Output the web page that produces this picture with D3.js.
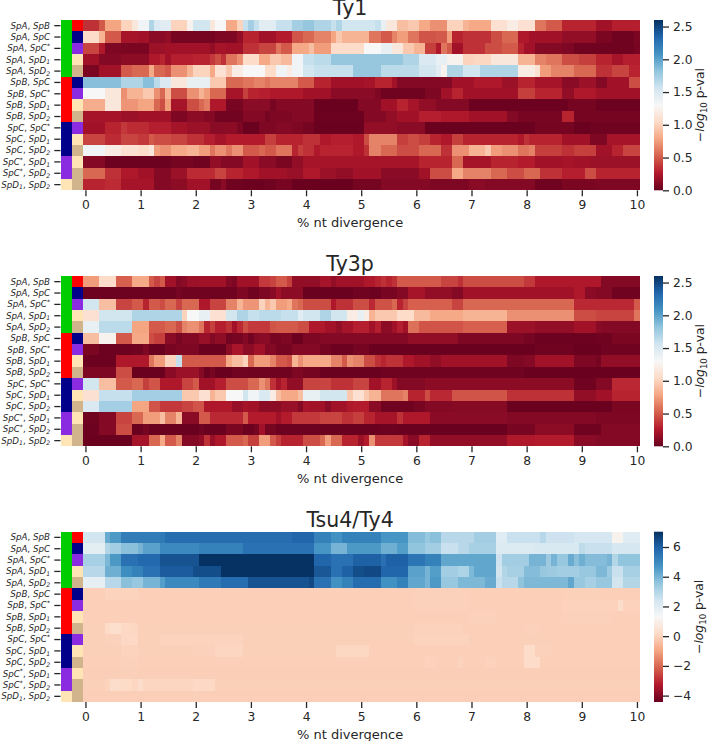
<!DOCTYPE html>
<html><head><meta charset="utf-8">
<script src="https://cdn.jsdelivr.net/npm/d3@7"></script>
<style>html,body{margin:0;padding:0;background:#fff}svg{display:block}text{font-family:"DejaVu Sans";fill:#262626}</style>
</head><body><div id="c"></div>
<script>
// Sliding-window position categories: % nt divergence, 0 to 10 in steps of 0.1
const divergence = d3.range(0, 101).map(i => i / 10);
const xTicks = [0,1,2,3,4,5,6,7,8,9,10];
const speciesA = ["SpA","SpA","SpA","SpA","SpA","SpB","SpB","SpB","SpB","SpC","SpC","SpC","SpC*","SpC*","SpD1"];
const speciesB = ["SpB","SpC","SpC*","SpD1","SpD2","SpC","SpC*","SpD1","SpD2","SpC*","SpD1","SpD2","SpD1","SpD2","SpD2"];
const speciesNames = ["SpA","SpB","SpC","SpC*","SpD1","SpD2"];
const speciesColors = ["#00cd00","#ff0000","#00008b","#8a2be2","#ffe4b5","#d2b48c"];
const rdbuStops = ["#67001f","#b2182b","#d6604d","#f4a582","#fddbc7","#f7f7f7","#d1e5f0","#92c5de","#4393c3","#2166ac","#053061"];

// Each row: plateaus of [divergence where the plateau starts, -log10 p-val]
const ty1Rows = [
[[0,.35],[.3,.5],[.4,.78],[.7,1],[.9,1.15],[1,1.35],[1.2,1.7],[1.3,1.5],[1.4,1.45],[1.6,1],[1.9,1.25],[2,1.55],[2.3,1.15],[2.4,1.3],[2.6,.8],[2.8,1],[2.9,1.6],[3,1.75],[3.1,1.6],[3.2,1.45],[3.5,1.6],[3.8,1.75],[4,1.8],[4.2,1.7],[4.5,1.6],[4.6,1.7],[4.7,1.55],[5.3,1.6],[5.4,1.4],[5.5,1.15],[5.7,.9],[5.9,.95],[6.1,.8],[6.3,.7],[6.6,1],[6.9,.85],[7,.8],[7.4,1.1],[7.7,1.2],[7.9,1.1],[8.2,.6],[8.4,.5],[8.7,.3],[9.3,.2],[9.6,.28]],
[[0,1.05],[.3,.85],[.4,.5],[.7,.22],[1,.2],[1.2,.12],[1.5,.15],[1.6,.05],[2.4,.08],[2.8,.15],[2.9,.3],[3.2,.2],[3.5,.27],[3.8,.48],[4,.55],[4.2,.65],[4.5,.78],[4.6,.95],[4.7,.85],[5.2,.6],[5.4,.5],[5.6,.65],[5.7,.75],[5.9,.6],[6.1,.48],[6.4,.5],[6.6,.75],[6.7,.3],[6.9,.35],[7.4,.45],[7.6,.55],[7.9,.25],[8.1,.2],[8.7,.15],[9.3,.07],[9.6,.03],[10,.07]],
[[0,.42],[.3,.25],[.4,.08],[.7,.07],[1.2,.18],[1.5,.2],[2.3,.15],[2.4,.22],[2.6,.2],[2.9,.35],[3.2,.42],[3.5,.6],[3.6,.5],[3.8,.8],[4.1,.9],[4.2,.75],[4.5,1.05],[5.1,1.3],[5.4,1.4],[5.6,1.15],[5.8,.95],[6,.85],[6.2,.4],[6.4,.25],[6.5,.6],[6.6,.5],[6.7,.2],[6.9,.35],[7.3,.45],[7.6,.5],[7.9,.3],[8,.2],[8.2,.1],[8.7,.08],[8.9,.03],[10,.06]],
[[0,.2],[.3,.1],[.7,.13],[1.2,.25],[1.4,.3],[1.5,.2],[1.6,.28],[2,.3],[2.3,.38],[2.4,.45],[2.5,.35],[2.6,.6],[2.8,.7],[2.9,1.05],[3.2,.8],[3.4,.95],[3.6,.88],[3.8,1.35],[4,1.6],[4.2,1.65],[4.5,1.8],[5.8,1.7],[6.1,1.5],[6.4,1.4],[6.6,1.25],[6.9,1],[7.1,1.02],[7.4,1.15],[7.9,.85],[8.2,.65],[8.4,.6],[8.7,.45],[9,.4],[9.3,.3],[9.6,.22],[9.8,.28]],
[[0,.07],[.3,.2],[.7,.5],[.9,.55],[1.2,.8],[1.3,.55],[1.5,.5],[1.6,.7],[1.9,.85],[2,1],[2.3,.8],[2.4,1.1],[2.6,.95],[2.7,1.2],[2.9,1.3],[3.3,1.05],[3.5,1.35],[3.7,1.2],[3.8,1.35],[4,1.55],[4.2,1.6],[4.9,1.8],[5.4,1.65],[6.1,1.55],[6.4,1.45],[6.5,1.25],[6.6,1.7],[6.9,1.55],[7.2,1.7],[7.9,1.2],[8.2,1.1],[8.3,.75],[8.5,.65],[8.9,.55],[9.3,.35],[9.6,.42],[9.9,.3]],
[[0,1.85],[.7,1.7],[1.1,1.85],[1.3,1.65],[1.4,1.5],[1.6,1.15],[1.9,1.4],[2.3,.95],[2.6,.55],[2.9,.6],[3.1,.65],[3.3,.6],[3.4,.65],[3.9,.5],[4.2,.3],[4.5,.2],[5.1,.22],[5.3,.3],[5.6,.2],[5.7,.1],[6.7,.2],[7.1,.25],[7.6,.18],[7.9,.3],[8.2,.22],[8.7,.12],[9,.18],[9.3,.1],[9.5,.2],[9.9,.45]],
[[0,1.3],[.4,1.15],[.7,.7],[.8,.85],[1.1,.95],[1.3,.7],[1.4,.55],[1.5,.85],[1.6,.45],[1.9,.7],[2.1,.85],[2.2,.75],[2.3,.55],[2.6,.22],[2.9,.4],[3,.3],[3.2,.28],[3.4,.25],[4,.2],[4.5,.12],[5.3,.08],[5.4,.03],[6.2,.08],[6.5,.2],[6.7,.3],[6.9,.2],[7.9,.4],[8.2,.3],[8.7,.15],[8.9,.25],[9.3,.2]],
[[0,.82],[.4,1.15],[.7,.72],[1,.78],[1.3,.55],[1.4,.45],[1.5,.75],[1.6,.22],[1.9,.45],[2.1,.55],[2.2,.62],[2.3,.25],[2.6,.06],[2.9,.12],[3.4,.06],[3.5,.1],[4.2,.01],[5,.1],[5.4,.2],[5.7,.3],[5.9,.22],[6.1,.15],[6.4,.1],[7,.02],[8.8,.05],[9.3,.02]],
[[0,.22],[.7,.18],[1,.2],[1.6,.08],[1.9,.13],[2.2,.1],[2.4,.04],[2.9,.1],[3.3,.05],[3.4,.08],[3.8,.1],[4.2,.02],[5.1,.1],[5.5,.15],[5.7,.2],[6.1,.28],[6.5,.25],[7,.2],[7.7,.1],[7.9,.06],[8.7,.3],[8.9,.05]],
[[0,.2],[.4,.3],[.7,.38],[.8,.33],[1.2,.28],[1.6,.22],[1.9,.18],[2.3,.12],[2.6,.13],[2.8,.08],[2.9,.01],[3.2,.08],[3.5,.1],[3.8,.08],[4,.05],[4.2,.01],[5.1,.15],[5.7,.12],[6.2,.01],[8.2,.05],[8.9,.01],[9.2,.03]],
[[0,.42],[.4,.33],[.7,.42],[1,.38],[1.2,.5],[1.3,.45],[1.6,.42],[1.9,.35],[2.2,.28],[2.4,.22],[2.6,.27],[3.3,.4],[3.5,.3],[4,.35],[4.3,.25],[4.5,.28],[4.9,.25],[5.1,.45],[5.2,.65],[5.7,.4],[5.9,.45],[6.1,.4],[6.3,.3],[6.5,.25],[6.7,.4],[6.9,.3],[7.9,.25],[8,.35],[8.1,.3],[8.7,.2],[9.2,.08],[9.5,.22]],
[[0,1.35],[.4,1.2],[.7,1.1],[1,1.05],[1.2,1.15],[1.3,.75],[1.4,.7],[1.6,.8],[1.9,.85],[2.1,.75],[2.3,.6],[2.4,.7],[2.6,.6],[2.7,.7],[2.9,.5],[3.2,.55],[3.3,.5],[3.5,.6],[3.8,.3],[3.9,.4],[4,.35],[4.2,.25],[4.3,.3],[4.9,.25],[5.1,.35],[5.2,.65],[5.4,.55],[5.7,.45],[6.1,.55],[6.5,.35],[6.7,.7],[7,.85],[7.3,.95],[7.4,.75],[7.6,.7],[7.9,.6],[8.1,.65],[8.2,.4],[8.7,.35],[8.9,.4],[9.3,.2],[9.6,.3],[9.8,.42]],
[[0,.1],[.4,.02],[1.6,.05],[2,.03],[2.3,.15],[2.5,.1],[2.9,.2],[3.2,.12],[3.5,.07],[3.8,.15],[4,.22],[6.1,.3],[6.7,.55],[6.9,.22],[7.4,.3],[7.9,.27],[8.2,.2],[8.7,.22],[8.9,.2],[9.2,.18]],
[[0,.55],[.4,.35],[.7,.25],[1,.2],[1.3,.1],[1.6,.18],[1.9,.33],[2.4,.42],[2.6,.3],[2.9,.25],[3.2,.2],[3.7,.17],[4,.25],[4.3,.18],[4.6,.15],[4.9,.2],[5.4,.12],[6.1,.2],[6.3,.45],[6.7,.8],[6.9,.65],[7.4,.55],[7.7,.45],[8,.55],[8.3,.35],[8.7,.28],[9.1,.45],[9.3,.3]],
[[0,.3],[.4,.33],[.7,.22],[1.3,.1],[1.6,.13],[1.9,.2],[2.3,.05],[2.5,.12],[2.6,.03],[2.9,.02],[3.3,.03],[3.5,.06],[3.8,.01],[4.9,.05],[5.4,.1],[6.3,.08],[7,.12],[7.3,.1],[8.2,.03],[8.7,.07],[9.3,.08]]
];

const ty3pRows = [
[[0,.75],[.3,1.05],[.6,.52],[.9,.8],[1.2,.5],[1.3,.42],[1.4,.5],[1.5,.2],[1.7,.1],[1.8,.13],[1.9,.18],[2.1,.2],[2.6,.1],[2.7,.08],[2.8,.2],[3.2,.38],[3.4,.42],[3.5,.5],[3.7,.4],[3.8,.15],[4.3,.22],[4.5,.15],[4.6,.2],[5.1,.25],[5.3,.3],[5.4,.35],[5.5,.3],[5.6,.35],[5.7,.5],[6.5,.42],[6.8,.35],[6.9,.45],[8,.38],[8.2,.25],[9.4,.1]],
[[0,.02],[1.7,.05],[1.8,.03],[2.8,.08],[3,.03],[3.2,.08],[3.4,.12],[3.5,.2],[3.6,.13],[4,.01],[4.9,.03],[5.2,.02],[5.4,.06],[5.7,.1],[5.9,.22],[6.2,.15],[6.7,.1],[6.9,.2],[8.9,.25],[9.1,.12],[9.3,.1],[9.6,.03]],
[[0,1.55],[.3,.9],[.6,.42],[.9,.5],[1.1,.3],[1.2,.5],[1.4,.45],[1.5,.55],[1.7,.42],[1.8,.55],[2.1,.25],[2.3,.42],[2.6,.65],[2.8,.85],[2.9,.72],[3.2,1],[3.3,.85],[3.4,.95],[3.5,.75],[3.7,.8],[3.8,.6],[3.9,.55],[4,.45],[4.5,.25],[4.6,.35],[4.9,.45],[5.2,.32],[5.3,.47],[5.6,.55],[5.7,.3],[5.8,.42],[5.9,.52],[6.7,.42],[6.9,.55],[8.9,.32],[10,.5]],
[[0,1.1],[.3,1.55],[.9,1.7],[1.8,1],[1.9,1.3],[2.1,1.4],[2.3,1.1],[2.6,1.55],[2.8,1.7],[3,1.6],[3.2,1.65],[3.6,1.6],[3.9,1.45],[4,1.55],[4.3,1.7],[4.5,1.55],[4.8,1.2],[5,1.4],[5.1,1.2],[5.2,.85],[5.3,.95],[5.7,1.05],[6,.88],[6.3,.8],[6.9,.85],[7.7,.7],[8.9,.45],[9.3,.42],[10,.6]],
[[0,1.4],[.3,1.65],[.9,.78],[1.2,.5],[1.5,.55],[1.7,.45],[1.8,.65],[1.9,.7],[2.1,.6],[2.2,.3],[2.3,.4],[2.4,.28],[2.6,.35],[2.7,.2],[2.8,.32],[2.9,.45],[3,.38],[3.4,.48],[3.5,.5],[3.9,.45],[4.1,.25],[4.4,.2],[4.6,.15],[4.7,.22],[4.9,.28],[5.2,.2],[5.3,.28],[5.4,.13],[5.6,.2],[5.7,.28],[5.8,.2],[5.9,.58],[6.1,.48],[6.9,.52],[7.7,.18],[8.2,.15],[8.9,.2],[9.3,.12],[9.4,.1]],
[[0,.9],[.3,1.25],[.6,.5],[.9,.8],[1.2,.45],[1.3,.4],[1.5,.12],[1.7,.06],[1.8,.1],[2.1,.17],[2.3,.1],[2.4,.14],[2.6,.04],[2.7,.06],[2.9,.1],[3,.04],[3.1,.1],[3.2,.12],[3.4,.06],[3.6,.08],[3.8,.02],[4,.08],[4.3,.1],[5.9,.15],[6.8,.08],[8,.05],[8.2,.02],[9.3,.03],[9.6,.07]],
[[0,.07],[.3,.02],[.9,.03],[1.1,.08],[1.2,.01],[1.5,.06],[1.7,.08],[2.1,.01],[2.6,.13],[2.7,.23],[2.9,.13],[3.1,.2],[3.3,.1],[3.5,.05],[3.8,.1],[4.3,.05],[4.5,.02],[4.9,.05],[5.2,.01],[8.2,.03],[8.9,.01],[9.4,.03]],
[[0,.02],[.6,.25],[1.2,.6],[1.3,.75],[1.5,1],[1.7,1.6],[1.8,.5],[2.6,.8],[2.7,.9],[2.9,1],[3,.55],[3.1,.75],[3.4,.65],[3.5,.5],[3.7,.45],[3.8,.85],[3.9,.7],[4,.8],[4.5,.65],[4.7,.5],[4.8,.7],[4.9,.65],[5.1,.45],[5.3,.35],[5.4,.3],[5.5,.35],[5.8,.25],[6,.2],[6.3,.15],[6.5,.2],[7.7,.08],[8,.1],[8.2,.2],[8.9,.08],[9.3,.05],[9.4,.15]],
[[0,.08],[.6,.45],[.9,.01],[1.5,.12],[1.7,.18],[2.1,.1],[2.2,.02],[2.3,.06],[2.4,.01],[2.7,.04],[3,.03],[3.8,.08],[4,.05],[4.3,.01],[5.4,.03],[8,.01]],
[[0,1.55],[.3,.9],[.6,.5],[.9,.55],[1.1,.4],[1.2,.48],[1.4,.25],[1.8,.42],[2,.5],[2.1,.2],[2.4,.28],[2.6,.45],[3,.55],[3.2,.7],[3.3,.6],[3.4,.35],[3.5,.22],[3.6,.3],[3.7,.15],[4,.42],[4.5,.35],[4.9,.42],[5.2,.2],[5.4,.3],[5.6,.18],[5.7,.1],[6.2,.13],[8.9,.03],[9.3,.1],[9.6,.32]],
[[0,1.1],[.3,1.6],[.9,1.75],[1.8,.95],[2.1,1.1],[2.3,.85],[2.4,.95],[2.6,1.3],[2.9,1.55],[3,1.35],[3.2,1.5],[3.4,1.2],[3.5,.9],[3.6,.8],[3.9,.9],[4,1.4],[4.3,1.55],[4.8,.95],[4.9,1.1],[5.1,.95],[5.2,.85],[5.4,.6],[5.8,.65],[5.9,.3],[6.2,.45],[6.3,.32],[6.7,.48],[7.7,.35],[8.9,.15],[9.3,.2],[9.6,.3]],
[[0,1.5],[.3,1.75],[.9,.78],[1.2,.48],[1.4,.38],[1.8,.42],[2,.48],[2.2,.25],[2.7,.17],[2.9,.22],[3,.2],[3.2,.13],[3.6,.17],[3.9,.1],[4,.22],[4.1,.2],[4.4,.12],[4.5,.2],[4.8,.25],[4.9,.27],[5.2,.12],[5.4,.03],[6,.06],[6.2,.1],[6.7,.11],[7.7,.01],[9.6,.07]],
[[0,.03],[.3,.1],[.6,.42],[.9,.55],[1.1,.75],[1.4,.9],[1.5,.65],[1.7,.85],[1.8,.12],[2.1,.5],[2.3,.32],[2.9,.5],[3,.27],[3.5,.2],[3.6,.27],[3.8,.38],[4.3,.42],[4.7,.35],[4.9,.4],[5.1,.3],[5.3,.22],[5.7,.35],[5.8,.25],[6.3,.12],[7.7,.1],[9.3,.08]],
[[0,.02],[.3,.1],[.6,.45],[.9,.01],[1.1,.05],[1.2,.01],[2.1,.03],[2.2,.01],[2.6,.07],[2.9,.02],[3.1,.05],[3.2,.2],[3.3,.05],[3.5,.02],[4.3,.01],[5.4,.02],[5.7,.01],[7.7,.06],[8.2,.13],[8.9,.03],[9.4,.1]],
[[0,.01],[.9,.22],[1.2,.55],[1.4,.8],[1.5,.5],[1.7,.65],[1.8,.1],[2.1,.15],[2.2,.35],[2.3,.17],[2.4,.25],[2.6,.5],[2.9,.55],[3,.4],[3.2,.75],[3.4,.5],[3.5,.4],[3.6,.3],[4,.45],[4.3,.55],[4.4,.75],[4.5,.55],[4.7,.3],[5,.18],[5.1,.27],[5.2,.7],[5.3,.38],[5.8,.22],[5.9,.12],[6.1,.3],[6.3,.15],[7.7,.25],[8.2,.27],[8.9,.12],[9.3,.1]]
];

const tsu4Rows = [
[[0,2.4],[.4,4.2],[.5,4.6],[.7,5.3],[1.4,5.4],[1.5,5.7],[3.8,5.9],[4.2,5.2],[4.5,4.8],[4.7,5.2],[5.4,4.7],[5.9,3.8],[6.2,3.5],[6.3,3.7],[6.5,2.9],[7.1,3.3],[7.5,2],[7.7,2.6],[8.3,2.9],[8.4,2.5],[8.9,2.3],[9.6,1.1],[9.8,2]],
[[0,1.9],[.4,3],[.5,3.3],[.7,3.7],[1,4],[1.1,4.4],[1.4,5],[2.1,5.2],[2.9,5.6],[4.2,4.7],[4.5,4],[4.8,4.6],[5.4,4.1],[5.7,4.5],[5.9,3.6],[6.2,3.3],[6.5,2.6],[6.8,2.9],[7,3.2],[7.5,2.1],[8.2,2.2],[9,2.8],[9.1,2.6],[9.6,2.3]],
[[0,3.2],[.4,3.9],[.5,4.6],[.7,5.6],[1,5.8],[1.4,6.3],[2.1,7],[4.2,5.9],[4.5,5.6],[4.9,6],[5.4,5.6],[5.5,6],[5.9,5.5],[6.2,5.2],[6.5,4.3],[7.5,2.5],[7.6,3.3],[8.1,4],[8.4,3.4],[8.5,4],[8.6,3.5],[8.8,4.2],[8.9,3.7],[9,4.1],[9.1,3.8],[9.5,4],[9.6,3],[9.7,3.6]],
[[0,2.9],[.4,4.1],[.7,4.9],[.9,5.2],[1.1,5.6],[1.4,6.1],[2,6.4],[2.5,7],[4.2,6.2],[4.5,5.6],[4.7,6],[4.9,6.4],[5.1,6.5],[5.4,5.9],[5.9,4.4],[6.2,4],[6.3,4.5],[6.5,3.3],[6.8,3.1],[7,3.9],[7.1,4.3],[7.5,2.4],[7.6,3],[7.7,3.2],[8,3.8],[8.3,3.5],[8.4,3.4],[8.6,3.3],[9,3.5],[9.3,3.9],[9.5,3.4],[9.6,2.6],[9.8,3.2]],
[[0,1.8],[.4,2.9],[.7,3.7],[.9,3.5],[1.1,4],[1.4,4.5],[1.5,5],[2.1,5.4],[2.5,5.7],[3,6.3],[4.1,6.5],[4.2,5.6],[4.5,4.8],[4.7,5.2],[4.9,5.7],[5.4,4.8],[5.7,5.2],[5.9,4.3],[6.2,4],[6.3,4.6],[6.5,3.5],[6.8,3.9],[7.3,4.2],[7.5,2.6],[7.6,2.9],[7.9,3.6],[8,3.9],[8.8,4.3],[8.9,3.5],[9.1,3.2],[9.3,3.5],[9.6,2.4],[9.8,3]],
[[0,-.1],[.4,-.02],[1,-.1],[6,-.05],[7,-.1],[8.7,-.06],[9.4,-.1]],
[[0,-.1],[6,-.05],[7,-.1],[8.7,-.03],[9.7,.25],[9.8,-.03]],
[[0,-.1],[7,-.05],[7.5,-.1],[8.7,-.05],[9.6,-.1]],
[[0,-.08],[.4,.15],[.5,.3],[.7,.1],[.9,.05],[1,-.08],[6,-.03],[6.9,-.1],[8,-.05],[8.3,-.1]],
[[0,-.08],[.4,-.05],[.7,.1],[1,-.08],[1.4,-.02],[2.9,-.08],[6,0],[7,-.08]],
[[0,-.08],[.7,0],[1,-.08],[2,-.05],[2.4,.05],[2.9,-.08],[4.6,.07],[5.2,-.1],[8,.2],[8.2,-.05],[8.5,-.1]],
[[0,-.1],[.7,-.05],[1,-.1],[6.2,-.03],[6.4,-.1],[6.8,0],[6.9,-.1],[7.3,-.03],[7.5,-.1],[8,.2],[8.3,-.1]],
[[0,-.11],[.7,-.08],[1,-.11]],
[[0,-.08],[.4,0],[.5,.25],[.7,.15],[.9,.05],[1,.25],[1.1,.05],[2,.1],[2.4,-.08]],
[[0,-.11],[2,-.08],[2.1,-.11]]
];

const panelTitles = ["Ty1","Ty3p","Tsu4/Ty4"];
const panelRows = [ty1Rows, ty3pRows, tsu4Rows];
const panelDomains = [[0,2.6],[0,2.6],[-4.43,7.03]];
const panelTicks = [[0,.5,1,1.5,2,2.5],[0,.5,1,1.5,2,2.5],[-4,-2,0,2,4,6]];
const panelTops = [20,276,531.7];
const panelHeight = 170.3;

const W = 708, H = 741;
const left = 82.7, right = 639.7, stripW = 11.1;
const svg = d3.select("#c").append("svg").attr("width",W).attr("height",H);
const defs = svg.append("defs");
const ink = "#262626";

function expand(runs){
  const starts = runs.map(r => r[0]);
  return divergence.map(d => runs[d3.bisectRight(starts, d + 1e-6) - 1][1]);
}
// Row label pieces: species names in italics, with a raised star or lowered index
function labelPieces(a, b, size){
  const out = [];
  const add = sp => {
    const base = sp.replace(/[*12]$/,""), mark = sp.slice(base.length);
    out.push({t:base, it:true, s:size, lift:0});
    if(mark === "*") out.push({t:"*", it:true, s:size*.7, lift:-size*.35});
    else if(mark) out.push({t:mark, it:true, s:size*.7, lift:size*.2});
  };
  add(a); out.push({t:", ", it:false, s:size, lift:0}); add(b);
  return out;
}

panelTitles.forEach((title,p) => {
  const top = panelTops[p], bottom = top + panelHeight;
  const g = svg.append("g");
  const [vmin,vmax] = panelDomains[p];
  const color = d3.scaleLinear()
    .domain(rdbuStops.map((_,i) => vmin + (vmax-vmin)*i/10))
    .range(rdbuStops).interpolate(d3.interpolateRgb);
  const xBand = d3.scaleBand().domain(divergence).range([left,right]);
  const xAxisScale = d3.scaleLinear().domain([-.05,10.05]).range([left,right]);
  const pairIdx = d3.range(speciesA.length);
  const y = d3.scaleBand().domain(pairIdx).range([top,bottom]);
  const sc = d3.scaleOrdinal(speciesNames, speciesColors);

  panelRows[p].forEach((runs,r) => {
    g.append("g").attr("shape-rendering","crispEdges").selectAll("rect").data(expand(runs)).join("rect")
      .attr("x",(d,i) => xBand(divergence[i]))
      .attr("y",y(r))
      .attr("width",xBand.bandwidth())
      .attr("height",y.bandwidth())
      .attr("fill",d => color(d));
  });
  [speciesA,speciesB].forEach((list,k) => {
    g.append("g").attr("shape-rendering","crispEdges").selectAll("rect").data(list).join("rect")
      .attr("x",left-stripW*(2-k)).attr("y",(d,i)=>y(i))
      .attr("width",stripW).attr("height",y.bandwidth())
      .attr("fill",d=>sc(d));
  });
  // row ticks and labels
  const yl = g.append("g");
  pairIdx.forEach(i => {
    const cy = y(i)+y.bandwidth()/2;
    yl.append("line").attr("x1",left-stripW*2-6.2).attr("x2",left-stripW*2).attr("y1",cy).attr("y2",cy).attr("stroke",ink).attr("stroke-width",1.3);
    const t = yl.append("text").attr("x",left-stripW*2-10.5).attr("y",cy+2.9).attr("text-anchor","end").attr("font-size",8.7);
    let last = 0;
    labelPieces(speciesA[i],speciesB[i],8.7).forEach(q => {
      t.append("tspan").attr("font-style",q.it?"italic":"normal").attr("font-size",q.s).attr("dy",q.lift-last).text(q.t);
      last = q.lift;
    });
  });
  // x axis
  const ax = g.append("g").attr("transform",`translate(0,${bottom})`)
    .call(d3.axisBottom(xAxisScale).tickValues(xTicks).tickSize(6).tickPadding(4).tickFormat(d3.format("d")));
  ax.select(".domain").remove();
  ax.selectAll("line").attr("stroke",ink).attr("stroke-width",1.3);
  ax.selectAll("text").attr("font-size",12.3).attr("font-family","DejaVu Sans").attr("fill",ink);
  const midX = (left-stripW*2+right)/2;
  g.append("text").attr("x",midX).attr("y",bottom+36.5).attr("text-anchor","middle").attr("font-size",13).text("% nt divergence");
  g.append("text").attr("x",midX).attr("y",top-5.2).attr("text-anchor","middle").attr("font-size",20.5).text(title);

  // colorbar
  const gid = "cb"+p;
  const lg = defs.append("linearGradient").attr("id",gid).attr("x1",0).attr("x2",0).attr("y1",1).attr("y2",0);
  rdbuStops.forEach((c,i)=>lg.append("stop").attr("offset",i/10).attr("stop-color",c));
  const cx0 = 654, cx1 = 663;
  g.append("rect").attr("x",cx0).attr("y",top).attr("width",cx1-cx0).attr("height",panelHeight).attr("fill",`url(#${gid})`);
  const cs = d3.scaleLinear().domain([vmin,vmax]).range([bottom,top]);
  const cax = g.append("g").attr("transform",`translate(${cx1},0)`)
    .call(d3.axisRight(cs).tickValues(panelTicks[p]).tickSize(6).tickPadding(4).tickFormat(p===2 ? (d=>String(d).replace("-","\u2212")) : d3.format(".1f")));
  cax.select(".domain").remove();
  cax.selectAll("line").attr("stroke",ink).attr("stroke-width",1.3);
  cax.selectAll("text").attr("font-size",12.3).attr("font-family","DejaVu Sans").attr("fill",ink);
  const lab = g.append("text").attr("text-anchor","middle").attr("font-size",12.3)
    .attr("transform",`translate(${p===2?703:704},${(top+bottom)/2}) rotate(-90)`);
  lab.append("tspan").text("\u2212");
  lab.append("tspan").attr("font-style","italic").text("log");
  lab.append("tspan").attr("font-size",8.6).attr("dy",2.5).text("10");
  lab.append("tspan").attr("dy",-2.5).text(" p-val");
});
</script></body></html>
